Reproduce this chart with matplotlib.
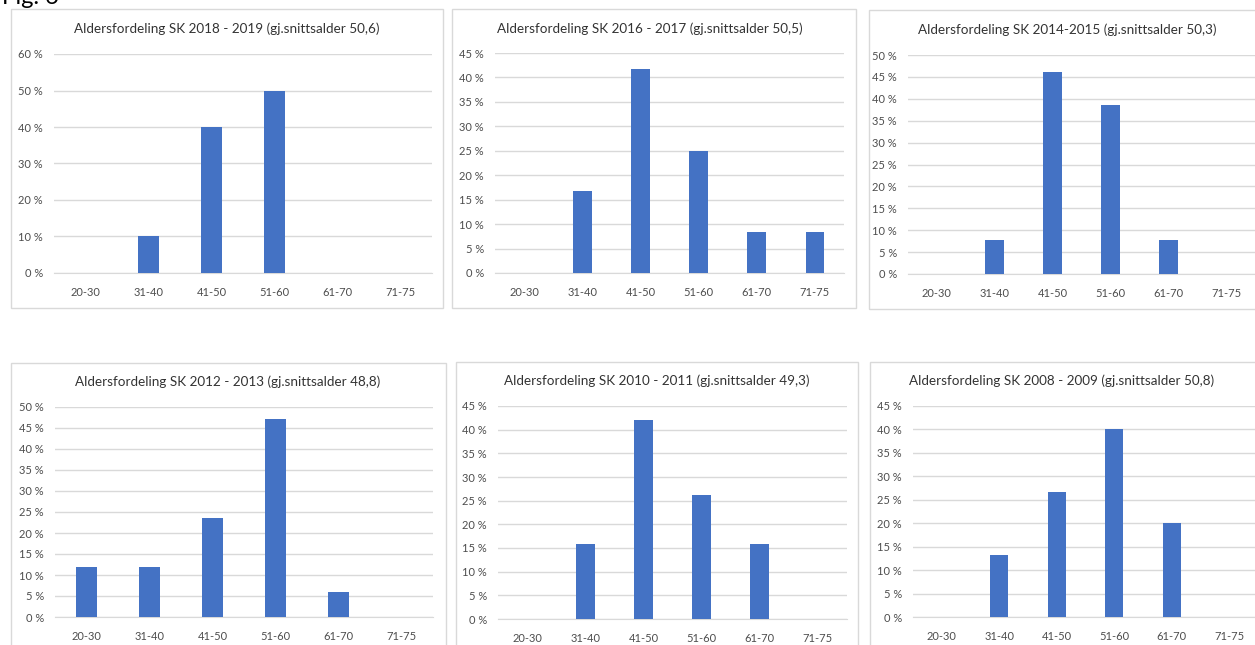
import matplotlib.pyplot as plt
from matplotlib.patches import Rectangle
from matplotlib.ticker import MultipleLocator, FuncFormatter

W, H = 1255, 645

groups = ["20-30", "31-40", "41-50", "51-60", "61-70", "71-75"]

titles = [
    "Aldersfordeling SK 2018 - 2019 (gj.snittsalder 50,6)",
    "Aldersfordeling SK 2016 - 2017 (gj.snittsalder 50,5)",
    "Aldersfordeling SK 2014-2015 (gj.snittsalder 50,3)",
    "Aldersfordeling SK 2012 - 2013 (gj.snittsalder 48,8)",
    "Aldersfordeling SK 2010 - 2011 (gj.snittsalder 49,3)",
    "Aldersfordeling SK 2008 - 2009 (gj.snittsalder 50,8)",
]

sk_2018 = [0, 10.0, 40.0, 50.0, 0, 0]
sk_2016 = [0, 16.7, 41.7, 25.0, 8.3, 8.3]
sk_2014 = [0, 7.7, 46.2, 38.5, 7.7, 0]
sk_2012 = [11.8, 11.8, 23.5, 47.1, 5.9, 0]
sk_2010 = [0, 15.8, 42.1, 26.3, 15.8, 0]
sk_2008 = [0, 13.3, 26.7, 40.0, 20.0, 0]

values = [sk_2018, sk_2016, sk_2014, sk_2012, sk_2010, sk_2008]
ymax = [60, 45, 50, 50, 45, 45]
ystep = [10, 5, 5, 5, 5, 5]

# layout in pixels: box (x0, y0, x1, y1), plot area (x0, ytop, x1, ybottom), title centre
boxes = [
    (11, 9, 443, 308), (452, 9, 856, 308), (869, 10, 1262, 309),
    (11, 363, 446, 660), (456, 362, 858, 660), (870, 362, 1262, 660),
]
areas = [
    (54, 54, 432, 273), (495, 53, 844, 273), (908, 55, 1255, 274),
    (55, 407, 433, 617), (498, 406, 847, 619), (913, 406, 1258, 617),
]
title_pos = [(227, 29), (650, 29), (1067, 30), (228, 382), (657, 381), (1062, 381)]

BLUE = "#4472C4"
GRID = "#D9D9D9"
TXT = "#4D4D4D"
FONT = ["Lato", "DejaVu Sans"]

fig = plt.figure(figsize=(W / 100, H / 100), dpi=100)
fig.patch.set_facecolor("white")


def fx(px):
    return px / W


def fy(py):
    return 1 - py / H


fig.text(fx(2), fy(4), "Fig. 6", fontsize=17, family=FONT, va="baseline", ha="left", color="black")

pct = FuncFormatter(lambda v, p: "%d %%" % v)

for i in range(6):
    bx0, by0, bx1, by1 = boxes[i]
    fig.patches.append(Rectangle((fx(bx0), fy(by1)), fx(bx1 - bx0), (by1 - by0) / H,
                                 transform=fig.transFigure, fill=False, edgecolor=GRID, lw=1))
    ax0, at, ax1, ab = areas[i]
    ax = fig.add_axes([fx(ax0), fy(ab), fx(ax1 - ax0), (ab - at) / H])
    x = range(len(groups))
    ax.bar(x, values[i], width=0.32, color=BLUE, linewidth=0, zorder=3)
    ax.set_xlim(-0.5, len(groups) - 0.5)
    ax.set_ylim(0, ymax[i])
    ax.yaxis.set_major_locator(MultipleLocator(ystep[i]))
    ax.yaxis.set_major_formatter(pct)
    ax.set_xticks(list(x))
    ax.set_xticklabels(groups)
    ax.grid(axis="y", color=GRID, lw=1, zorder=0)
    for s in ["top", "right", "left"]:
        ax.spines[s].set_visible(False)
    ax.spines["bottom"].set_color(GRID)
    ax.tick_params(length=0, labelsize=8, labelcolor=TXT)
    ax.tick_params(axis="x", pad=10)
    ax.tick_params(axis="y", pad=8)
    for lab in ax.get_xticklabels() + ax.get_yticklabels():
        lab.set_family(FONT)
    ax.set_facecolor("none")
    tx, ty = title_pos[i]
    fig.text(fx(tx), fy(ty), titles[i], fontsize=9.7, family=FONT, color="#333333",
             ha="center", va="center")

fig.savefig("out.png", dpi=100)
